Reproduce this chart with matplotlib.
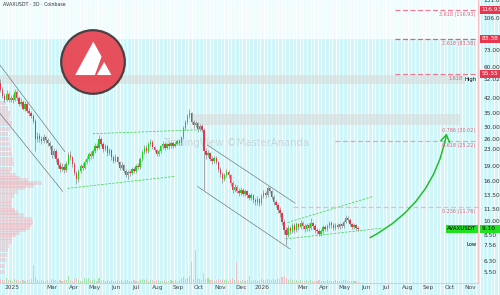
import numpy as np
import pandas as pd
import matplotlib.pyplot as plt
import matplotlib.dates as mdates
import matplotlib.transforms as mtransforms
from matplotlib.patches import Circle, Polygon, FancyArrowPatch
from matplotlib.ticker import NullLocator

# AVAX/USDT 3D candles
start_date = '2024-12-15'
first_open = 50.0
closes = [46, 43, 41, 44, 41, 42, 41, 45, 42, 39,
          40, 37, 39, 36, 35, 34, 32, 26, 27, 26,
          25.5, 26.5, 25.6, 24.8, 23.8, 21.5, 22.5, 20.5, 19.2, 18.2,
          18.8, 18.0, 19.5, 21.5, 21.0, 19.3, 17.5, 16.2, 17.8, 19.0,
          18.6, 19.8, 20.5, 21.8, 21.2, 22.5, 24.0, 23.5, 26.0, 24.5,
          23.0, 23.8, 22.0, 22.8, 21.0, 20.2, 21.0, 19.8, 18.6, 19.2,
          17.9, 17.0, 17.6, 17.4, 18.2, 17.9, 19.0, 18.8, 20.5, 22.3,
          23.5, 22.6, 24.5, 25.2, 23.6, 22.8, 21.8, 22.5, 23.8, 24.6,
          23.5, 24.4, 23.8, 24.8, 24.0, 24.6, 25.5, 24.8, 26.5, 29.5,
          31.5, 33.8, 35.2, 31.8, 30.5, 31.2, 29.0, 30.2, 28.8, 22.5,
          21.5, 22.0, 20.6, 20.0, 20.8, 19.8, 18.2, 17.2, 16.2, 17.0,
          17.6, 17.0, 15.5, 14.4, 14.9, 14.2, 13.8, 14.4, 13.7, 14.1,
          13.5, 13.1, 13.5, 12.7, 12.4, 12.9, 12.3, 13.4, 13.9, 13.5,
          14.6, 14.2, 13.2, 12.5, 12.1, 11.4, 10.9, 9.9, 9.0, 8.5,
          9.2, 8.9, 9.5, 9.0, 9.6, 9.3, 9.8, 9.4, 9.1, 9.5,
          9.2, 9.7, 9.4, 9.0, 8.9, 8.6, 8.9, 9.3, 9.1, 9.4,
          9.8, 9.5, 9.2, 9.5, 9.3, 9.6, 9.4, 9.9, 10.4, 10.1,
          9.6, 9.3, 9.5, 9.2, 9.1]
highs = [52.02, 47.5, 44.5, 45.8, 45.0, 43.5, 43.8, 46.5, 45.8, 43.0,
         41.6, 41.0, 40.2, 39.8, 37.2, 36.0, 34.8, 32.6, 28.2, 27.8,
         26.8, 27.4, 27.0, 26.2, 25.4, 24.2, 23.4, 23.0, 21.0, 19.8,
         19.6, 19.4, 20.1, 22.4, 22.6, 21.4, 19.8, 17.9, 18.3, 19.5,
         19.7, 20.3, 21.2, 22.4, 22.5, 23.2, 24.8, 24.9, 27.1, 26.6,
         25.2, 24.6, 24.3, 23.5, 23.2, 21.6, 21.7, 21.4, 20.2, 19.8,
         19.5, 18.3, 18.0, 18.1, 18.7, 18.8, 19.4, 19.6, 21.0, 22.8,
         24.1, 24.2, 25.0, 26.0, 25.6, 24.0, 23.2, 23.0, 24.3, 25.3,
         25.0, 24.9, 25.0, 25.4, 25.2, 25.1, 26.0, 26.1, 27.0, 30.2,
         32.3, 34.6, 36.8, 35.6, 32.4, 32.0, 31.6, 30.9, 30.8, 29.4,
         23.4, 22.8, 22.4, 21.2, 21.4, 21.2, 20.1, 18.7, 17.6, 17.5,
         18.2, 18.0, 17.3, 15.9, 15.4, 15.2, 14.6, 14.9, 14.7, 14.5,
         14.3, 13.9, 13.9, 13.7, 13.0, 13.3, 13.1, 13.7, 14.3, 14.2,
         15.0, 14.9, 14.4, 13.5, 12.8, 12.3, 11.7, 11.1, 10.2, 9.3,
         9.5, 9.4, 9.8, 9.7, 9.9, 9.8, 10.1, 10.0, 9.6, 9.8,
         9.7, 10.3, 9.9, 9.6, 9.2, 9.1, 9.1, 9.5, 9.5, 9.6,
         10.0, 10.0, 9.7, 9.7, 9.7, 9.8, 9.8, 10.1, 10.7, 10.6,
         10.3, 9.8, 9.7, 9.6, 9.4]
lows = [45.0, 42.0, 39.8, 40.2, 40.0, 40.1, 39.6, 40.4, 41.0, 38.0,
        38.1, 36.2, 36.0, 35.1, 34.0, 33.0, 31.2, 22.5, 25.0, 25.2,
        24.6, 24.9, 24.8, 24.0, 23.1, 20.8, 21.0, 19.9, 18.5, 17.6,
        17.8, 17.4, 17.7, 19.1, 20.3, 18.8, 17.0, 15.3, 15.8, 17.4,
        18.1, 18.3, 19.4, 20.1, 20.6, 20.9, 22.0, 22.8, 23.0, 23.8,
        22.4, 22.5, 21.4, 21.6, 20.4, 19.6, 19.8, 19.3, 18.1, 18.2,
        17.4, 16.6, 16.3, 16.9, 17.0, 17.4, 17.5, 18.3, 18.4, 20.0,
        21.8, 22.0, 22.1, 23.9, 23.0, 22.2, 21.2, 21.4, 22.0, 23.2,
        22.9, 23.0, 23.2, 23.4, 23.4, 23.6, 24.1, 24.2, 24.3, 26.0,
        28.9, 30.8, 33.0, 31.0, 29.6, 29.8, 28.3, 28.5, 28.0, 14.4,
        20.6, 21.0, 20.0, 19.5, 19.6, 19.3, 17.7, 16.7, 15.6, 15.9,
        16.6, 16.5, 15.0, 13.9, 14.0, 13.8, 13.4, 13.5, 13.3, 13.4,
        13.1, 12.7, 12.8, 12.3, 12.0, 12.1, 11.9, 12.0, 13.0, 13.1,
        13.2, 13.8, 12.9, 12.1, 11.7, 11.0, 10.5, 9.5, 8.6, 7.56,
        8.3, 8.6, 8.7, 8.7, 8.8, 9.0, 9.1, 9.1, 8.8, 8.9,
        8.9, 9.0, 9.1, 8.7, 8.6, 8.4, 8.4, 8.7, 8.9, 8.9,
        9.2, 9.2, 9.0, 9.0, 9.1, 9.1, 9.2, 9.2, 9.7, 9.9,
        9.4, 9.1, 9.1, 9.0, 8.9]
volumes = [4, 3, 3, 5, 3, 3, 2, 4, 3, 3,
           2, 3, 2, 3, 3, 4, 18, 6, 3, 2,
           3, 2, 2, 3, 2, 4, 3, 3, 2, 3,
           2, 3, 3, 7, 3, 2, 4, 5, 3, 2,
           2, 5, 4, 5, 3, 3, 4, 2, 5, 3,
           3, 2, 3, 2, 3, 2, 2, 3, 2, 3,
           2, 3, 3, 2, 2, 3, 2, 2, 3, 4,
           3, 4, 2, 3, 3, 2, 3, 2, 2, 2,
           3, 2, 2, 3, 2, 3, 2, 3, 5, 6,
           4, 5, 7, 21, 4, 33, 5, 4, 3, 10,
           4, 5, 3, 3, 2, 3, 4, 3, 4, 3,
           3, 2, 4, 5, 3, 21, 3, 2, 3, 2,
           3, 7, 2, 3, 3, 2, 3, 4, 3, 3,
           4, 3, 3, 4, 3, 5, 4, 6, 7, 5,
           3, 4, 3, 2, 3, 2, 3, 2, 2, 3,
           2, 3, 2, 2, 2, 3, 2, 2, 2, 3,
           2, 2, 2, 3, 2, 2, 2, 3, 3, 2,
           2, 2, 2, 2, 1]

# left volume profile
profile_prices = [38.0, 35.8, 33.8, 31.9, 30.1, 28.4, 26.8, 25.3, 23.9, 22.5, 21.2, 20.0, 18.9,
                  17.9, 17.3, 16.7, 16.2, 15.7, 15.2, 14.8, 14.4, 13.8, 13.2, 12.5, 12.0, 11.6,
                  11.2, 10.9, 10.5, 10.1, 9.7, 9.4, 9.1, 8.9, 8.6, 8.4, 8.1, 7.8, 7.4, 7.1, 6.7,
                  6.3, 5.9, 5.5]
profile_sizes = [6, 8, 10, 9, 12, 10, 8, 9, 10, 11, 12, 13, 14,
                 12, 10, 16, 20, 28, 42, 34, 25, 18, 14, 12, 11, 12,
                 15, 18, 24, 32, 33, 31, 30, 26, 20, 16, 12, 12, 9, 8, 7,
                 6, 5, 5]

# axis
price_ticks = [131, 106, 73, 60, 52.02, 42, 35, 30, 26, 23, 19, 16, 13.5, 11.5, 10, 8.5, 7.56, 6.3, 5.5]
month_ticks = ['2025-01-01', '2025-03-01', '2025-04-01', '2025-05-01', '2025-06-01', '2025-07-01',
               '2025-08-01', '2025-09-01', '2025-10-01', '2025-11-01', '2025-12-01', '2026-01-01',
               '2026-03-01', '2026-04-01', '2026-05-01', '2026-06-01', '2026-07-01', '2026-08-01',
               '2026-09-01', '2026-10-01', '2026-11-01']
month_labels = ['2025', 'Mar', 'Apr', 'May', 'Jun', 'Jul', 'Aug', 'Sep', 'Oct', 'Nov', 'Dec', '2026',
                'Mar', 'Apr', 'May', 'Jun', 'Jul', 'Aug', 'Sep', 'Oct', 'Nov']

# fib levels
fib_levels = [116.93, 83.38, 55.55, 25.22, 11.76]
fib_texts = ['3.618 (116.93)', '2.618 (83.38)', '1.618', '0.618 (25.22)', '0.236 (11.76)']
fib_starts = ['2026-07-14', '2026-07-14', '2026-07-14', '2026-04-18', '2026-02-15']
fib_colors = ['#f07a90', '#f5586f', '#f07a90', '#f3a0ae', '#f3b6c0']
box_levels = [116.93, 83.38, 55.55]
last_price = 9.10

# drawn lines (date, price, date, price)
gray_lines = [('2024-12-14', 61.7, '2025-03-19', 22.4),
              ('2024-12-14', 35.1, '2025-03-16', 14.1),
              ('2025-10-13', 24.2, '2026-02-18', 12.3),
              ('2025-09-29', 14.9, '2026-02-11', 7.2)]
green_lines = [('2025-04-29', 27.6, '2025-10-02', 28.9),
               ('2025-03-23', 14.6, '2025-08-27', 16.8),
               ('2026-02-07', 9.8, '2026-06-12', 13.3),
               ('2026-02-04', 8.1, '2026-06-26', 9.2)]
arrow_from = ('2026-06-04', 8.1)
arrow_to = ('2026-09-28', 28.6)
zone_full = (49.0, 54.9)
zone_top = ('2025-09-21', '2026-10-17', 30.5, 34.7)

x_left, x_right = '2024-12-14 12:00', '2026-11-12'
y_low, y_high = 4.85, 124

dnum = lambda s: mdates.date2num(pd.Timestamp(s))
dates = pd.date_range(start_date, periods=len(closes), freq='3D')
opens = [first_open] + closes[:-1]

W, H = 500, 295
fig = plt.figure(figsize=(W / 100, H / 100), dpi=100)
fig.patch.set_facecolor('#cdf6fa')
pos = [0, 12 / H, 478 / W, 283 / H]

# striped background
bg = fig.add_axes([0, 0, 1, 1], zorder=-2)
bg.axis('off')
bg.set_xlim(0, W)
bg.set_ylim(0, 1)
bg.vlines(np.arange(1.0, W, 3.6), 0, 1, color='white', lw=0.85, alpha=0.95)

# volume
axv = fig.add_axes(pos, zorder=0)
axv.axis('off')
vol_colors = ['#7fe08a' if c >= o else '#f4a9b4' for o, c in zip(opens, closes)]
axv.bar(dates, volumes, width=1.6, color=vol_colors, alpha=0.7, linewidth=0)
axv.set_xlim(dnum(x_left), dnum(x_right))
axv.set_ylim(0, max(volumes) * 283 / 33)

ax = fig.add_axes(pos, zorder=1)
ax.set_facecolor('none')
ax.set_yscale('log')

# zones
ax.axhspan(fib_levels[1], 1000, color='white', alpha=0.7, lw=0, zorder=0)
ax.axhspan(zone_full[0], zone_full[1], xmax=465 / 478, color='#d8d8d8', alpha=0.6, lw=0, zorder=1)
ax.fill_between([dnum(zone_top[0]), dnum(zone_top[1])], zone_top[2], zone_top[3],
                color='#d8d8d8', alpha=0.6, lw=0, zorder=1)

# watermark + title
ax.text(236 / W, 1 - 143 / H, 'TradingView \u00a9MasterAnanda', transform=fig.transFigure,
        fontsize=7.2, color='#b8b8b8', alpha=0.55, ha='center', va='center', zorder=1)
ax.text(3 / W, 1 - 5 / H, 'AVAXUSDT \u00b7 3D \u00b7 Coinbase', transform=fig.transFigure,
        fontsize=3.4, color='#333333', ha='left', va='center', zorder=6)

# candles
up = np.array(closes) >= np.array(opens)
body_lo = np.minimum(opens, closes)
body_h = np.maximum(np.abs(np.subtract(closes, opens)), np.array(closes) * 0.006)
ax.vlines(dates, lows, highs, color='#8a8a8a', lw=0.5, zorder=3)
ax.bar(dates, body_h, bottom=body_lo, width=2.0, color=np.where(up, '#18d418', '#e8364f'),
       linewidth=0, zorder=4)

# channels
for d1, p1, d2, p2 in gray_lines:
    ax.plot([dnum(d1), dnum(d2)], [p1, p2], color='#6f7b80', lw=0.5, zorder=2)
for d1, p1, d2, p2 in green_lines:
    ax.plot([dnum(d1), dnum(d2)], [p1, p2], color='#52d452', lw=0.6, ls=(0, (3, 1.5)), zorder=2)

# fib lines and labels
trans = mtransforms.blended_transform_factory(ax.transAxes, ax.transData)
for lvl, txt, st, col in zip(fib_levels, fib_texts, fib_starts, fib_colors):
    ax.plot([dnum(st), dnum(x_right)], [lvl, lvl], color=col, lw=0.9, ls=(0, (4, 2)), zorder=2)
    lx = 0.968 if txt == '1.618' else 0.994
    ax.annotate(txt, xy=(lx, lvl), xycoords=trans, xytext=(0, -3.2), textcoords='offset points',
                ha='right', va='center', fontsize=3.5, color='#e0607a', zorder=6)
ax.annotate('0.786 (30.02)', xy=(0.994, 30.02), xycoords=trans, xytext=(0, -3.2),
            textcoords='offset points', ha='right', va='center', fontsize=3.5, color='#e0607a')

# arrow
arr = FancyArrowPatch((dnum(arrow_from[0]), arrow_from[1]), (dnum(arrow_to[0]), arrow_to[1]),
                      connectionstyle='arc3,rad=0.25', arrowstyle='->,head_length=5,head_width=3.2',
                      color='#1fbf2a', lw=1.1, zorder=5)
ax.add_patch(arr)

# axes
ax.set_xlim(dnum(x_left), dnum(x_right))
ax.set_ylim(y_low, y_high)
ax.yaxis.tick_right()
ax.set_yticks(price_ticks)
ax.set_yticklabels(['%.2f' % v for v in price_ticks])
ax.yaxis.set_minor_locator(NullLocator())
ax.set_xticks([dnum(m) for m in month_ticks])
ax.set_xticklabels(month_labels)
ax.tick_params(axis='y', length=0, pad=4.2, labelsize=4.2, labelcolor='#333333')
ax.tick_params(axis='x', length=0, pad=1.6, labelsize=4.2, labelcolor='#444444')
for s in ['top', 'left']:
    ax.spines[s].set_visible(False)
for s in ['right', 'bottom']:
    ax.spines[s].set_color('#f2c2c8')
    ax.spines[s].set_linewidth(0.8)

# price boxes
for lvl in box_levels:
    ax.text(1.008, lvl, '%.2f' % lvl, transform=trans, fontsize=4.2, color='white', ha='left',
            va='center', bbox=dict(boxstyle='square,pad=0.25', fc='#e8364f', ec='none'), clip_on=False)
ax.text(1.008, last_price, '%.2f   ' % last_price, transform=trans, fontsize=4.2, color='black',
        ha='left', va='center', bbox=dict(boxstyle='square,pad=0.25', fc='#22e022', ec='none'), clip_on=False)
ax.text(0.997, last_price, 'AVAXUSDT', transform=trans, fontsize=4.0, color='black', ha='right',
        va='center', bbox=dict(boxstyle='square,pad=0.25', fc='#22e022', ec='none'), clip_on=False)
ax.text(0.997, 52.02, 'High', transform=trans, fontsize=3.8, color='black', ha='right', va='center')
ax.text(0.997, 7.56, 'Low', transform=trans, fontsize=3.8, color='black', ha='right', va='center')

# volume profile on the left
axp = fig.add_axes([0, 12 / H, 0.1, 283 / H], zorder=0.5)
axp.set_yscale('log')
axp.barh(profile_prices, profile_sizes, height=np.array(profile_prices) * 0.05,
         color='#f0b4bc', alpha=0.45, linewidth=0)
axp.set_xlim(0, 50)
axp.set_ylim(y_low, y_high)
axp.axis('off')

# logo
lg = fig.add_axes([(93 - 35) / W, (H - 62 - 35) / H, 70 / W, 70 / H], zorder=2)
lg.axis('off')
lg.set_xlim(-1.1, 1.1)
lg.set_ylim(-1.1, 1.1)
lg.add_patch(Circle((0, 0), 1.0, fc='#e8414f', ec='#3a3a3a', lw=1.6, alpha=0.92))
lg.add_patch(Polygon([(-0.56, -0.41), (0.01, 0.64), (0.27, 0.17), (0.06, -0.41)], fc='white', ec='none'))
lg.add_patch(Polygon([(0.12, -0.41), (0.35, 0.0), (0.58, -0.41)], fc='white', ec='none'))

fig.savefig('out.png', dpi=100, facecolor=fig.get_facecolor())
